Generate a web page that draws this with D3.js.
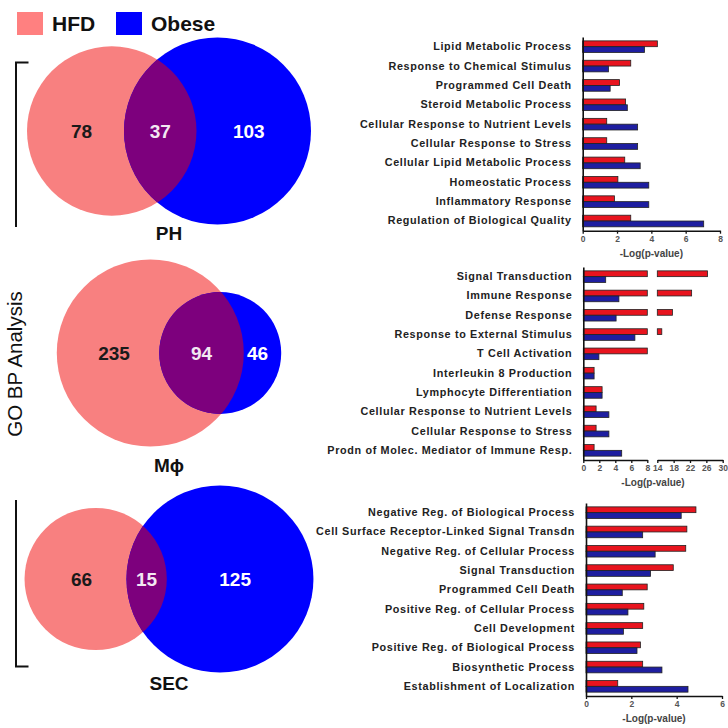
<!DOCTYPE html>
<html>
<head>
<meta charset="utf-8">
<script src="https://cdn.jsdelivr.net/npm/d3@7"></script>
<style>
  body { margin: 0; background: #fff; }
  svg { display: block; font-family: "Liberation Sans", Arial, sans-serif; }
</style>
</head>
<body>
<div id="chart"></div>
<script>
// Venn counts (HFD only, shared, Obese only) per cell type
const vennSets = ["HFD", "Obese"];
const vennNames = ["PH", "M\u03d5", "SEC"];
const hfdOnly = [78, 235, 66];
const shared = [37, 94, 15];
const obeseOnly = [103, 46, 125];

// GO BP terms, -log(p-value)
const phTerms = ["Lipid Metabolic Process", "Response to Chemical Stimulus", "Programmed Cell Death",
  "Steroid Metabolic Process", "Cellular Response to Nutrient Levels", "Cellular Response to Stress",
  "Cellular Lipid Metabolic Process", "Homeostatic Process", "Inflammatory Response",
  "Regulation of Biological Quality"];
const phHFD = [4.35, 2.8, 2.15, 2.5, 1.4, 1.4, 2.45, 2.05, 1.85, 2.8];
const phObese = [3.6, 1.5, 1.6, 2.6, 3.2, 3.2, 3.35, 3.85, 3.85, 7.05];
const phTicks = [0, 2, 4, 6, 8];

const mpTerms = ["Signal Transduction", "Immune Response", "Defense Response",
  "Response to External Stimulus", "T Cell Activation", "Interleukin 8 Production",
  "Lymphocyte Differentiation", "Cellular Response to Nutrient Levels", "Cellular Response to Stress",
  "Prodn of Molec. Mediator of Immune Resp."];
const mpHFD = [26.3, 22.4, 17.7, 15.1, 9, 1.35, 2.35, 1.6, 1.6, 1.35];
const mpObese = [2.8, 4.45, 4.1, 6.45, 1.95, 1.35, 2.35, 3.2, 3.2, 4.8];
const mpTicksLow = [0, 2, 4, 6, 8];
const mpTicksHigh = [14, 18, 22, 26, 30];

const secTerms = ["Negative Reg. of Biological Process", "Cell Surface Receptor-Linked Signal Transdn",
  "Negative Reg. of Cellular Process", "Signal Transduction", "Programmed Cell Death",
  "Positive Reg. of Cellular Process", "Cell Development", "Positive Reg. of Biological Process",
  "Biosynthetic Process", "Establishment of Localization"];
const secHFD = [4.85, 4.45, 4.4, 3.85, 2.7, 2.55, 2.5, 2.4, 2.5, 1.4];
const secObese = [4.2, 2.5, 3.05, 2.85, 1.6, 1.85, 1.65, 2.25, 3.35, 4.5];
const secTicks = [0, 2, 4, 6];

const pink = "#f88080", blue = "#0000ff", purple = "#7d007d";
const barRed = "#e8141e", barBlue = "#1e1ea0";

const W = 728, H = 728;
const svg = d3.select("#chart").append("svg")
  .attr("width", W).attr("height", H);

// Legend
const legendX = [17, 116];
vennSets.forEach((s, i) => {
  svg.append("rect")
    .attr("x", legendX[i]).attr("y", 12)
    .attr("width", 26).attr("height", 23)
    .attr("fill", i === 0 ? "#ff8080" : blue);
  svg.append("text")
    .attr("x", legendX[i] + 35).attr("y", 31)
    .attr("font-size", "21px").attr("font-weight", "bold")
    .attr("fill", "#111")
    .text(s);
});

// Side label + brackets
svg.append("text")
  .attr("transform", "translate(22,364) rotate(-90)")
  .attr("text-anchor", "middle")
  .attr("font-size", "20.5px")
  .attr("fill", "#111")
  .text("GO BP Analysis");

svg.append("path")
  .attr("d", "M28.5,62.5 H16 V227")
  .attr("fill", "none").attr("stroke", "#111").attr("stroke-width", 2);
svg.append("path")
  .attr("d", "M16,500 V666.5 H28.5")
  .attr("fill", "none").attr("stroke", "#111").attr("stroke-width", 2);

// Venn diagrams, areas proportional to counts
function lensArea(d, r1, r2) {
  if (d >= r1 + r2) return 0;
  if (d <= Math.abs(r1 - r2)) return Math.PI * Math.min(r1, r2) ** 2;
  const a1 = Math.acos((d * d + r1 * r1 - r2 * r2) / (2 * d * r1));
  const a2 = Math.acos((d * d + r2 * r2 - r1 * r1) / (2 * d * r2));
  const k = Math.sqrt((-d + r1 + r2) * (d + r1 - r2) * (d - r1 + r2) * (d + r1 + r2));
  return r1 * r1 * a1 + r2 * r2 * a2 - 0.5 * k;
}

const vennPos = [
  { cx: 169, cy: 131, labelY: 240 },
  { cx: 169, cy: 353, labelY: 472 },
  { cx: 169, cy: 579, labelY: 690 }
];

const defs = svg.append("defs");

vennNames.forEach((name, i) => {
  const nA = hfdOnly[i] + shared[i], nB = obeseOnly[i] + shared[i];
  const r = d3.scaleSqrt().domain([0, Math.max(nA, nB)]).range([0, 93.5]);
  const r1 = r(nA), r2 = r(nB);
  const target = Math.PI * r1 * r1 * shared[i] / nA;
  let lo = Math.abs(r1 - r2), hi = r1 + r2;
  for (let k = 0; k < 60; k++) {
    const mid = (lo + hi) / 2;
    if (lensArea(mid, r1, r2) > target) lo = mid; else hi = mid;
  }
  const d = (lo + hi) / 2;
  const p = vennPos[i];
  const span = r1 + d + r2;
  const x1 = p.cx - span / 2 + r1, x2 = x1 + d;

  const g = svg.append("g");
  g.append("circle").attr("cx", x1).attr("cy", p.cy).attr("r", r1).attr("fill", pink);
  g.append("circle").attr("cx", x2).attr("cy", p.cy).attr("r", r2).attr("fill", blue);
  defs.append("clipPath").attr("id", "clipB" + i)
    .append("circle").attr("cx", x2).attr("cy", p.cy).attr("r", r2);
  g.append("circle").attr("cx", x1).attr("cy", p.cy).attr("r", r1)
    .attr("fill", purple).attr("clip-path", `url(#clipB${i})`);

  const aL = x1 - r1, bL = x2 - r2, aR = x1 + r1, bR = x2 + r2;
  const nums = [
    { x: (aL + bL) / 2 + 6, v: hfdOnly[i], c: "#1a1a1a" },
    { x: (bL + aR) / 2, v: shared[i], c: "#f2e8f2" },
    { x: (aR + bR) / 2 - 5, v: obeseOnly[i], c: "#fff" }
  ];
  g.selectAll("text.num").data(nums).enter().append("text")
    .attr("class", "num")
    .attr("x", n => n.x).attr("y", p.cy).attr("dy", "0.36em")
    .attr("text-anchor", "middle")
    .attr("font-size", "19px").attr("font-weight", "bold")
    .attr("fill", n => n.c)
    .text(n => n.v);

  g.append("text")
    .attr("x", 169).attr("y", p.labelY)
    .attr("text-anchor", "middle")
    .attr("font-size", "19px").attr("font-weight", "bold")
    .attr("fill", "#111")
    .text(name);
});

// Bar panels
const panels = [
  { terms: phTerms, hfd: phHFD, obese: phObese, yRange: [37, 230.7],
    segs: [{ domain: [0, 8], range: [582.7, 720], ticks: phTicks }] },
  { terms: mpTerms, hfd: mpHFD, obese: mpObese, yRange: [267, 460],
    segs: [{ domain: [0, 8], range: [583.3, 647.3], ticks: mpTicksLow },
           { domain: [14, 30], range: [657.3, 722.7], ticks: mpTicksHigh }] },
  { terms: secTerms, hfd: secHFD, obese: secObese, yRange: [503, 696],
    segs: [{ domain: [0, 6], range: [586, 722], ticks: secTicks }] }
];

panels.forEach(pn => {
  const y = d3.scaleBand()
    .domain(pn.terms)
    .range(pn.yRange)
    .paddingInner(0.4)
    .paddingOuter(0.2);
  const bh = y.bandwidth() / 2;
  const axisY = pn.yRange[1];

  pn.segs.forEach(s => {
    s.x = d3.scaleLinear().domain(s.domain).range(s.range);
  });

  const rows = [];
  pn.terms.forEach((t, i) => {
    rows.push({ term: t, v: pn.hfd[i], off: 0, fill: barRed });
    rows.push({ term: t, v: pn.obese[i], off: bh, fill: barBlue });
  });

  pn.segs.forEach(s => {
    const vis = rows.filter(r => r.v > s.domain[0]);
    svg.append("g").selectAll("rect")
      .data(vis)
      .enter()
      .append("rect")
        .attr("x", s.x(s.domain[0]))
        .attr("y", r => y(r.term) + r.off)
        .attr("width", r => s.x(Math.min(r.v, s.domain[1])) - s.x(s.domain[0]))
        .attr("height", bh)
        .attr("fill", r => r.fill)
        .attr("stroke", "#222")
        .attr("stroke-width", 0.8);

    // x axis
    svg.append("g")
      .attr("transform", `translate(0,${axisY})`)
      .call(d3.axisBottom(s.x).tickValues(s.ticks).tickFormat(d3.format("d"))
        .tickSize(3).tickSizeOuter(0).tickPadding(2))
      .call(g => g.select(".domain").attr("stroke", "#111").attr("stroke-width", 1.6))
      .call(g => g.selectAll("line").attr("stroke", "#111").attr("stroke-width", 1.3))
      .call(g => g.selectAll("text")
        .attr("font-family", "'Liberation Sans', Arial, sans-serif")
        .attr("font-size", "8.5px").attr("font-weight", "bold").attr("fill", "#555"));
  });

  // y axis with term labels
  const x0 = pn.segs[0].x(0);
  svg.append("g")
    .attr("transform", `translate(${x0},0)`)
    .call(d3.axisLeft(y).tickSize(0).tickPadding(11))
    .call(g => g.select(".domain").attr("stroke", "#111").attr("stroke-width", 1.6))
    .call(g => g.selectAll("text")
      .attr("font-family", "'Liberation Sans', Arial, sans-serif")
      .attr("font-size", "10.8px").attr("font-weight", "bold")
      .attr("letter-spacing", "0.65px")
      .attr("fill", "#222"));

  const xs = pn.segs.flatMap(s => s.range);
  svg.append("text")
    .attr("x", (d3.min(xs) + d3.max(xs)) / 2)
    .attr("y", axisY + 26)
    .attr("text-anchor", "middle")
    .attr("font-size", "10px").attr("font-weight", "bold")
    .attr("fill", "#444")
    .text("-Log(p-value)");
});
</script>
</body>
</html>
